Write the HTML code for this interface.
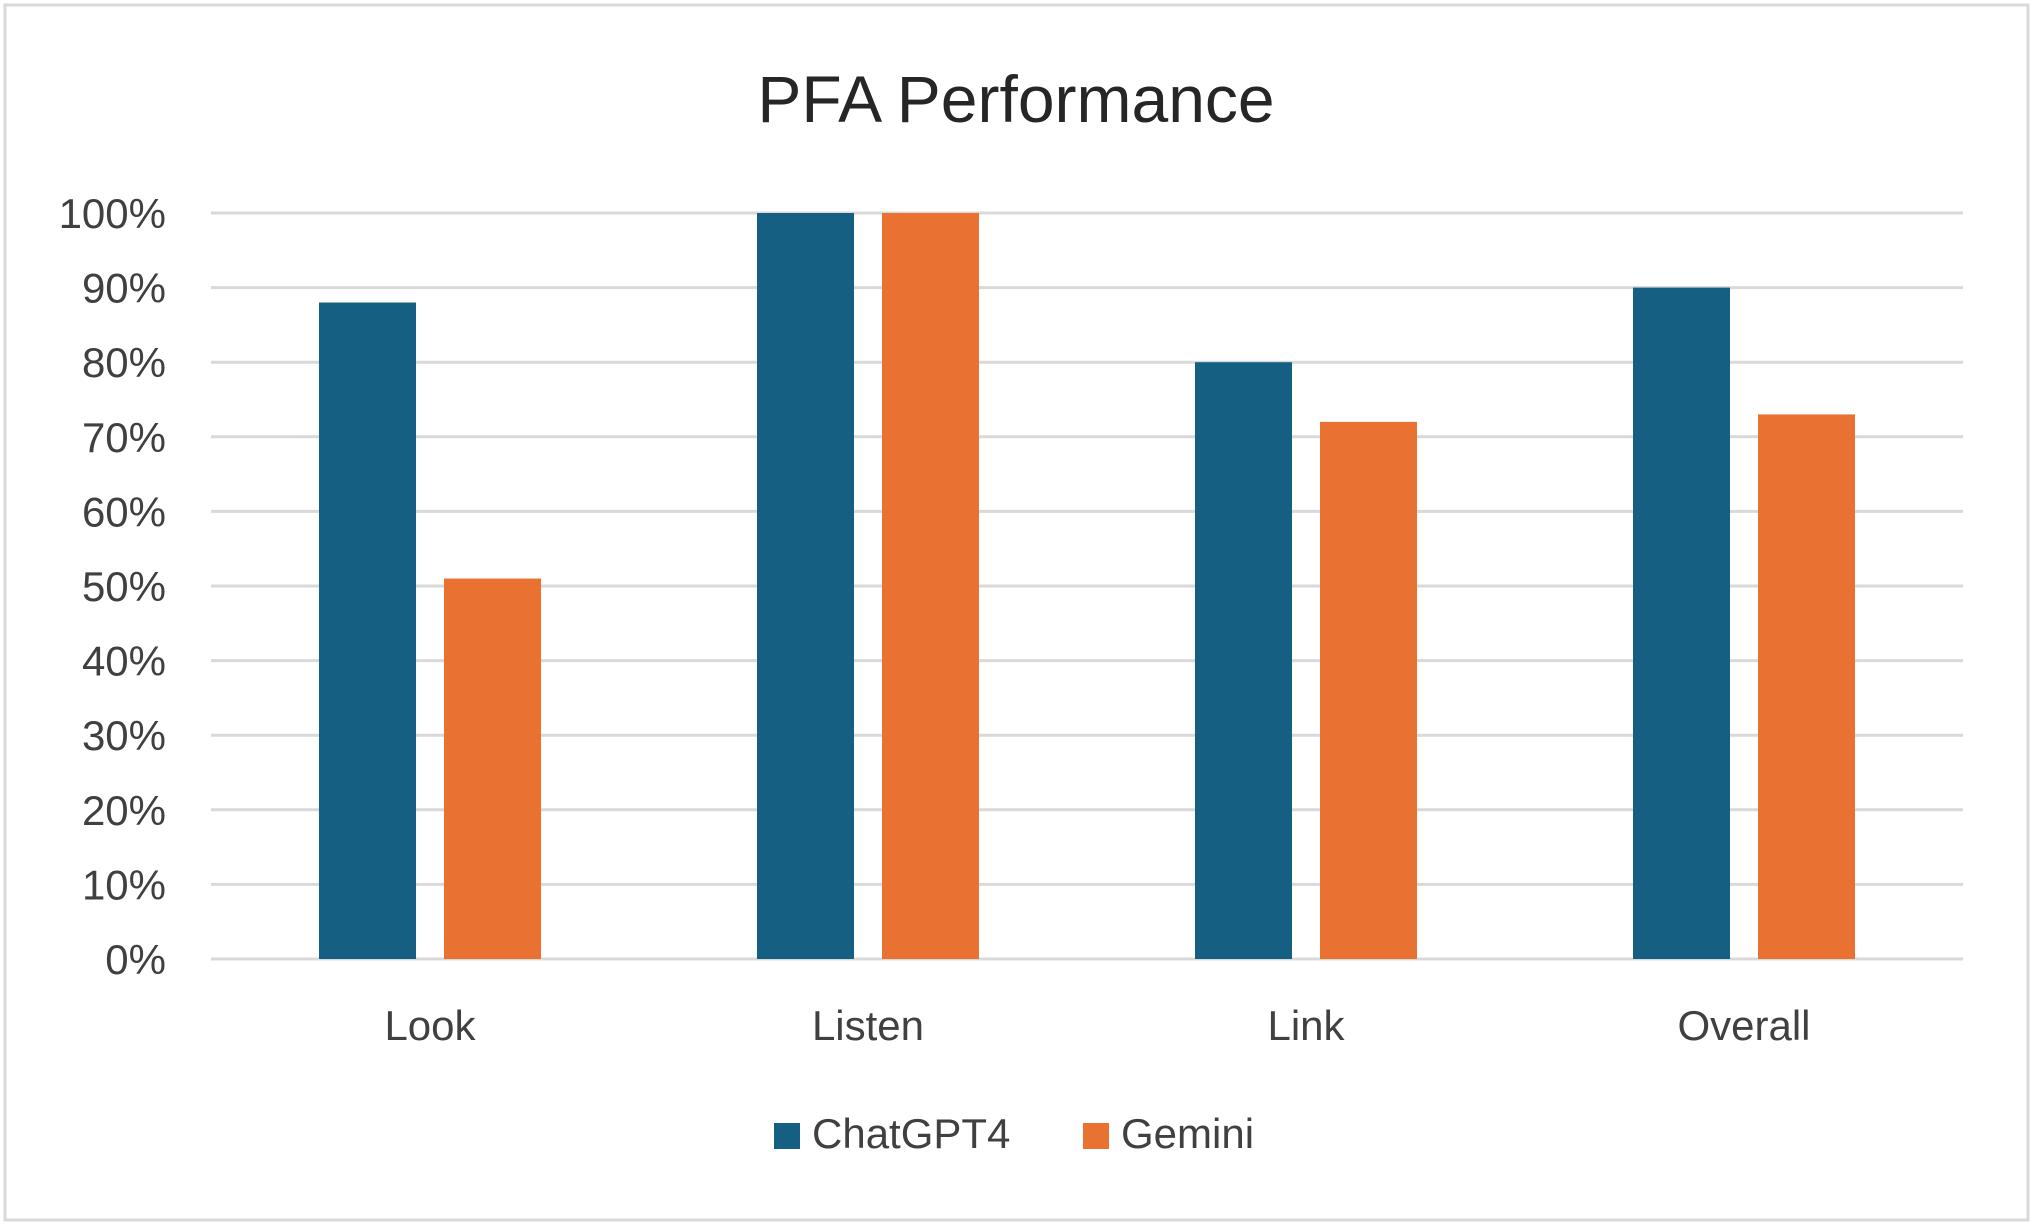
<!DOCTYPE html>
<html><head><meta charset="utf-8"><style>
html,body{margin:0;padding:0;background:#fff;}
svg{display:block;font-family:"Liberation Sans",sans-serif;}
</style></head><body>
<svg id="chart" width="2033" height="1225" viewBox="0 0 2033 1225">
<rect x="5" y="5" width="2023" height="1215" fill="#fff" stroke="#d9d9d9" stroke-width="3"/>
<text x="1016" y="122" font-size="66" text-anchor="middle" fill="#262626">PFA Performance</text>
<g id="grid"></g>
<g id="bars"></g>
<g id="labels"></g>
<g>
<rect x="774" y="1123" width="26" height="26" fill="#156082"/>
<text x="812" y="1148" font-size="42" fill="#404040">ChatGPT4</text>
<rect x="1083" y="1123" width="26" height="26" fill="#e97132"/>
<text x="1121" y="1148" font-size="42" fill="#404040">Gemini</text>
</g>
</svg>
<script>
const categories = ["Look","Listen","Link","Overall"];
const chatgptValues = [88,100,80,90];
const geminiValues = [51,100,72,73];
const tickValues = [0,10,20,30,40,50,60,70,80,90,100];
const tickLabels = ["0%","10%","20%","30%","40%","50%","60%","70%","80%","90%","100%"];

const NS="http://www.w3.org/2000/svg";
const left=211,right=1963,y0=959,y100=213;
const yScale=v=>y0-(y0-y100)*v/100;
const bandW=(right-left)/categories.length;
const xCenter=i=>left+bandW*(i+0.5);
const barW=97,gap=28;
const grid=document.getElementById('grid');
const bars=document.getElementById('bars');
const labels=document.getElementById('labels');
function mk(tag,attrs){const e=document.createElementNS(NS,tag);for(const k in attrs)e.setAttribute(k,attrs[k]);return e;}
tickValues.forEach((t,i)=>{
  const y=yScale(t);
  const l=mk('line',{x1:left,x2:right,y1:y,y2:y,stroke:'#d9d9d9','stroke-width':3});
  
  
  grid.appendChild(l);
  const tx=mk('text',{x:166,y:y+15,'font-size':42,'text-anchor':'end',fill:'#404040'});
  tx.textContent=tickLabels[i];
  
  
  labels.appendChild(tx);
});
categories.forEach((c,i)=>{
  const cx=xCenter(i);
  const b1=mk('rect',{x:cx-gap/2-barW,y:yScale(chatgptValues[i]),width:barW,height:y0-yScale(chatgptValues[i]),fill:'#156082'});
  
  
  bars.appendChild(b1);
  const b2=mk('rect',{x:cx+gap/2,y:yScale(geminiValues[i]),width:barW,height:y0-yScale(geminiValues[i]),fill:'#e97132'});
  
  
  bars.appendChild(b2);
  const t=mk('text',{x:cx,y:1040,'font-size':42,'text-anchor':'middle',fill:'#404040'});
  t.textContent=c;
  
  
  labels.appendChild(t);
});
</script>
</body></html>
